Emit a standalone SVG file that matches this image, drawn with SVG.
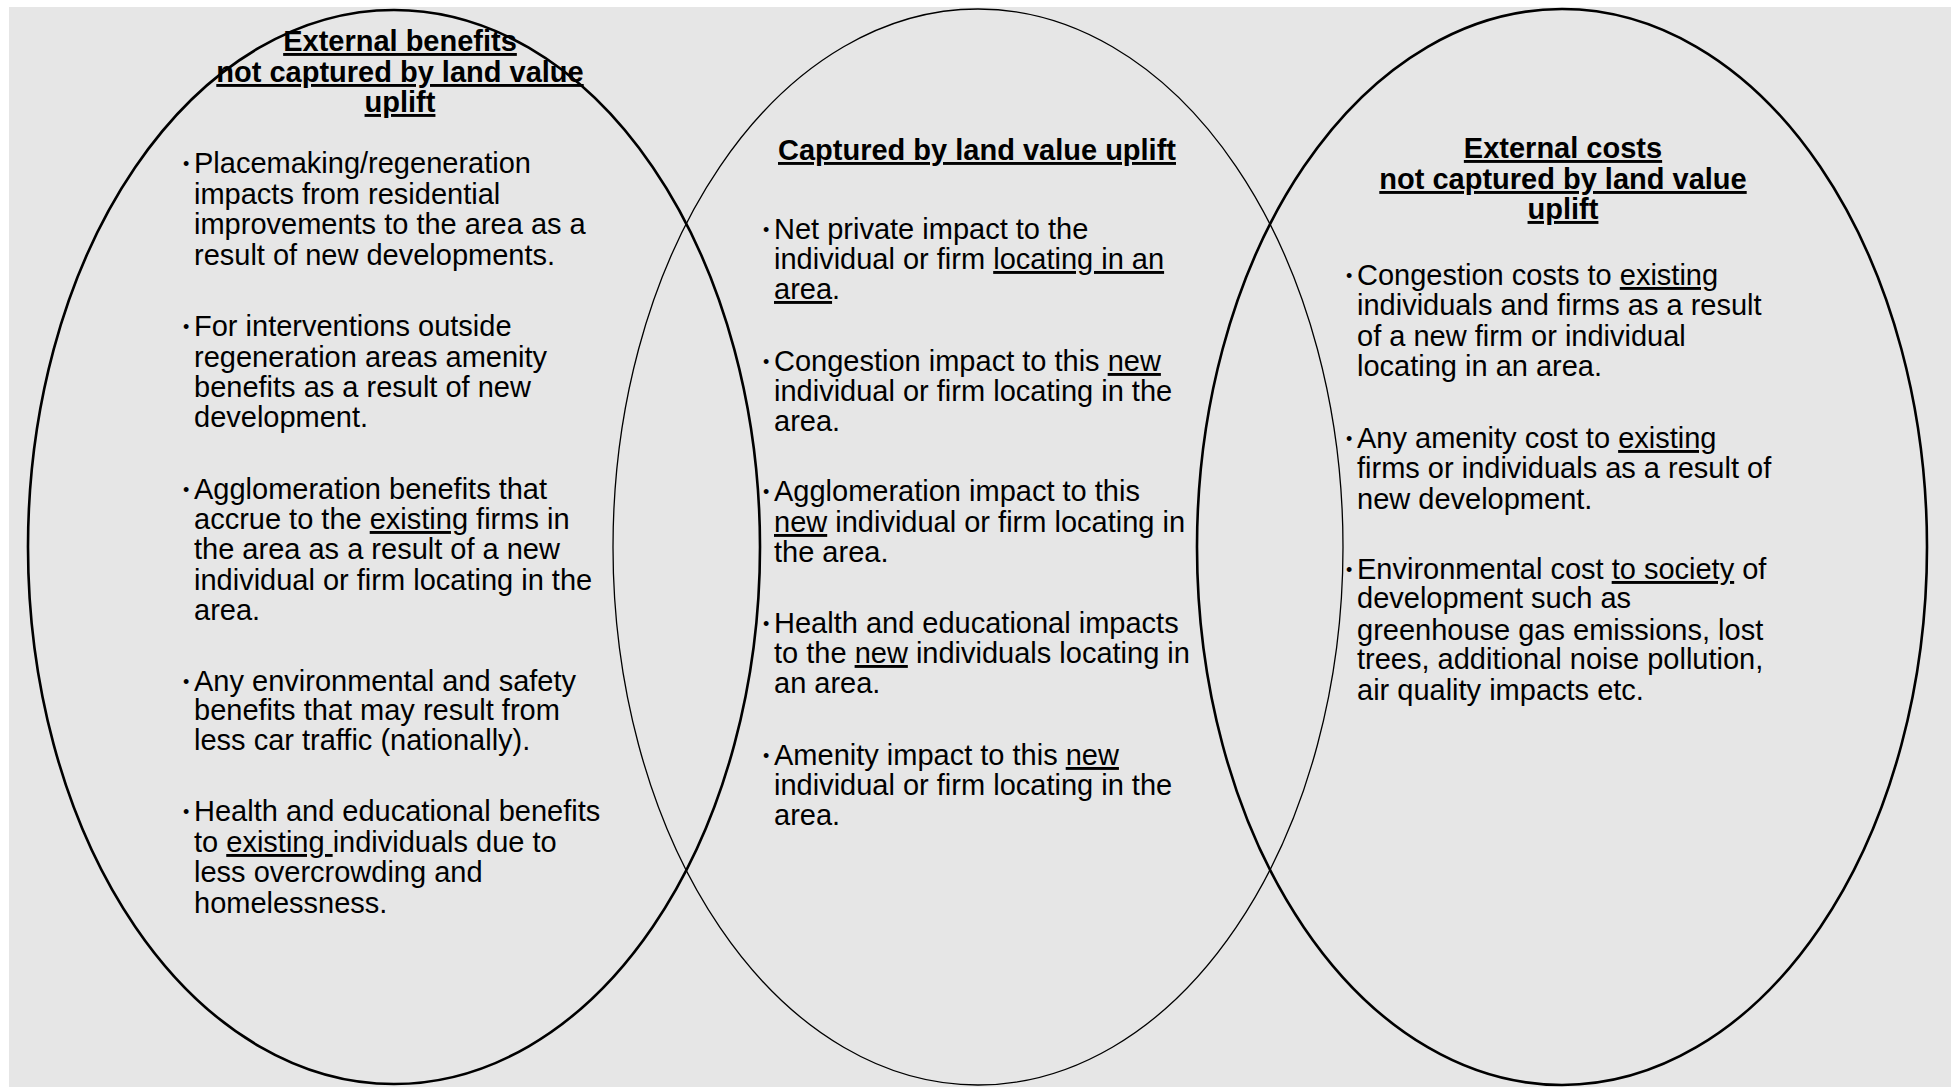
<svg xmlns="http://www.w3.org/2000/svg" width="1951" height="1087" viewBox="0 0 1951 1087">
<style>
.body{font-family:"Liberation Sans",Arial,sans-serif;font-size:29px;fill:#000}
.b{font-size:18px}
.head{font-family:"Liberation Sans",Arial,sans-serif;font-size:29px;font-weight:bold;fill:#000;text-anchor:middle;text-decoration:underline}
.u{text-decoration:underline}
.thick{fill:none;stroke:#000;stroke-width:2.6}
.thin{fill:none;stroke:#000;stroke-width:1.3}
</style>
<rect x="0" y="0" width="1951" height="1087" fill="#ffffff"/>
<rect x="9" y="7" width="1942" height="1080" fill="#e6e6e6"/>
<g id="connectors"></g>
<g id="left">
<ellipse class="thick" cx="394" cy="547" rx="366" ry="537"/>
<text class="head" x="400"><tspan x="400" y="51">External benefits</tspan><tspan x="400" y="82">not captured by land value</tspan><tspan x="400" y="112">uplift</tspan></text>
<text class="body"><tspan class="b" x="183" y="170">•</tspan><tspan x="194" y="173">Placemaking/regeneration</tspan><tspan x="194" y="204">impacts from residential</tspan><tspan x="194" y="234">improvements to the area as a</tspan><tspan x="194" y="265">result of new developments.</tspan></text>
<text class="body"><tspan class="b" x="183" y="333">•</tspan><tspan x="194" y="336">For interventions outside</tspan><tspan x="194" y="367">regeneration areas amenity</tspan><tspan x="194" y="397">benefits as a result of new</tspan><tspan x="194" y="427">development.</tspan></text>
<text class="body"><tspan class="b" x="183" y="496">•</tspan><tspan x="194" y="499">Agglomeration benefits that</tspan><tspan x="194" y="529">accrue to the </tspan><tspan class="u">existing</tspan><tspan> firms in</tspan><tspan x="194" y="559">the area as a result of a new</tspan><tspan x="194" y="590">individual or firm locating in the</tspan><tspan x="194" y="620">area.</tspan></text>
<text class="body"><tspan class="b" x="183" y="688">•</tspan><tspan x="194" y="691">Any environmental and safety</tspan><tspan x="194" y="720">benefits that may result from</tspan><tspan x="194" y="750">less car traffic (nationally).</tspan></text>
<text class="body"><tspan class="b" x="183" y="818">•</tspan><tspan x="194" y="821">Health and educational benefits</tspan><tspan x="194" y="852">to </tspan><tspan class="u">existing </tspan><tspan>individuals due to</tspan><tspan x="194" y="882">less overcrowding and</tspan><tspan x="194" y="913">homelessness.</tspan></text>
</g>
<g id="middle">
<ellipse class="thin" cx="978" cy="547" rx="365" ry="538"/>
<text class="head" x="977" y="160">Captured by land value uplift</text>
<text class="body"><tspan class="b" x="763" y="236">•</tspan><tspan x="774" y="239">Net private impact to the</tspan><tspan x="774" y="269">individual or firm </tspan><tspan class="u">locating in an</tspan><tspan x="774" y="299" class="u">area</tspan><tspan>.</tspan></text>
<text class="body"><tspan class="b" x="763" y="368">•</tspan><tspan x="774" y="371">Congestion impact to this </tspan><tspan class="u">new</tspan><tspan x="774" y="401">individual or firm locating in the</tspan><tspan x="774" y="431">area.</tspan></text>
<text class="body"><tspan class="b" x="763" y="498">•</tspan><tspan x="774" y="501">Agglomeration impact to this</tspan><tspan x="774" y="532" class="u">new</tspan><tspan> individual or firm locating in</tspan><tspan x="774" y="562">the area.</tspan></text>
<text class="body"><tspan class="b" x="763" y="630">•</tspan><tspan x="774" y="633">Health and educational impacts</tspan><tspan x="774" y="663">to the </tspan><tspan class="u">new</tspan><tspan> individuals locating in</tspan><tspan x="774" y="693">an area.</tspan></text>
<text class="body"><tspan class="b" x="763" y="762">•</tspan><tspan x="774" y="765">Amenity impact to this </tspan><tspan class="u">new</tspan><tspan x="774" y="795">individual or firm locating in the</tspan><tspan x="774" y="825">area.</tspan></text>
</g>
<g id="right">
<ellipse class="thick" cx="1562" cy="547" rx="365" ry="538"/>
<text class="head"><tspan x="1563" y="158">External costs</tspan><tspan x="1563" y="189">not captured by land value</tspan><tspan x="1563" y="219">uplift</tspan></text>
<text class="body"><tspan class="b" x="1346" y="282">•</tspan><tspan x="1357" y="285">Congestion costs to </tspan><tspan class="u">existing</tspan><tspan x="1357" y="315">individuals and firms as a result</tspan><tspan x="1357" y="346">of a new firm or individual</tspan><tspan x="1357" y="376">locating in an area.</tspan></text>
<text class="body"><tspan class="b" x="1346" y="445">•</tspan><tspan x="1357" y="448">Any amenity cost to </tspan><tspan class="u">existing</tspan><tspan x="1357" y="478">firms or individuals as a result of</tspan><tspan x="1357" y="509">new development.</tspan></text>
<text class="body"><tspan class="b" x="1346" y="576">•</tspan><tspan x="1357" y="579">Environmental cost </tspan><tspan class="u">to society</tspan><tspan> of</tspan><tspan x="1357" y="608">development such as</tspan><tspan x="1357" y="640">greenhouse gas emissions, lost</tspan><tspan x="1357" y="669">trees, additional noise pollution,</tspan><tspan x="1357" y="700">air quality impacts etc.</tspan></text>
</g>
</svg>
